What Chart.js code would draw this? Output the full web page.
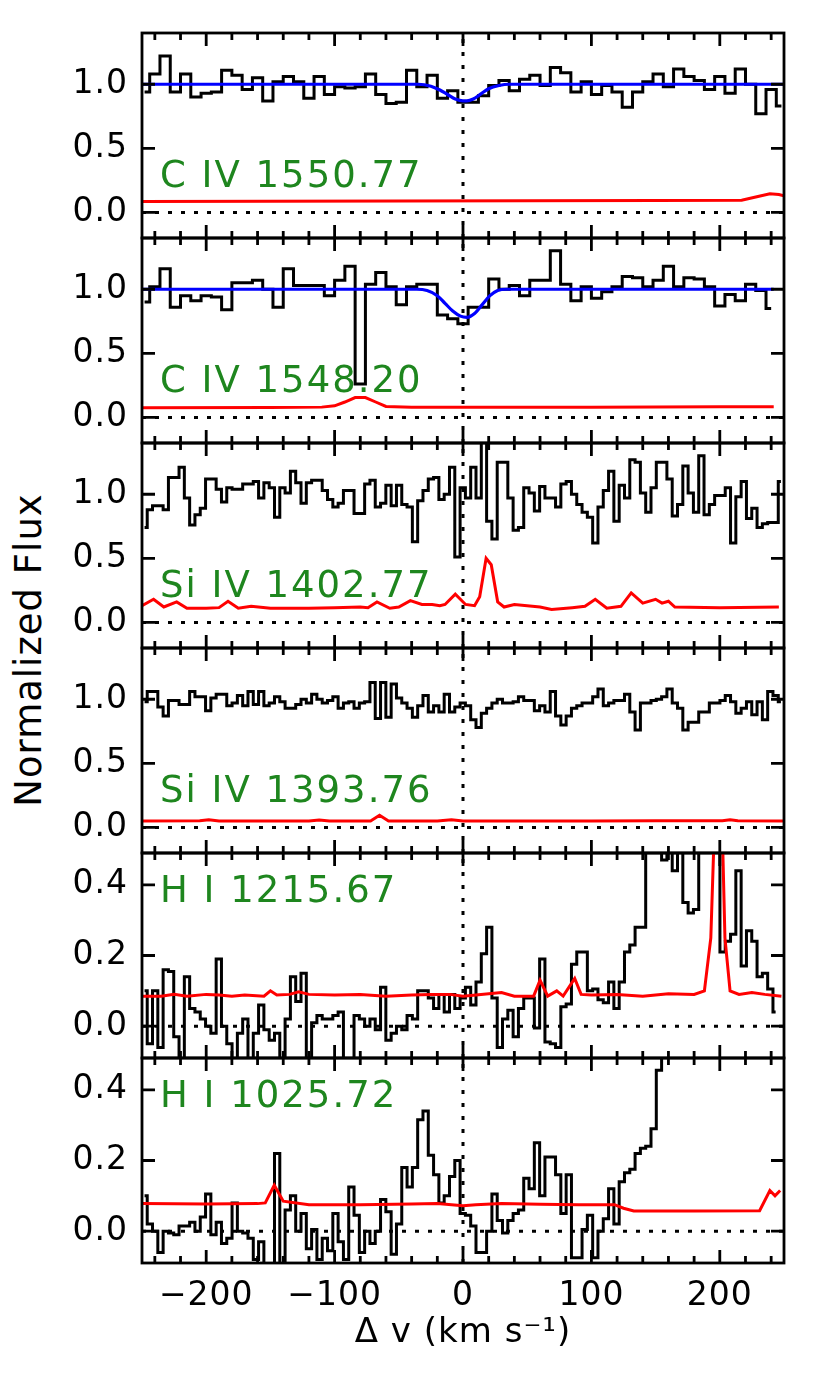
<!DOCTYPE html>
<html>
<head>
<meta charset="utf-8">
<script src="https://cdn.jsdelivr.net/npm/chart.js@4.4.1/dist/chart.umd.min.js"></script>
<style>
  html, body { margin: 0; padding: 0; background: #fff; }
  #wrap { position: relative; width: 830px; height: 1384px; overflow: hidden; background: #fff; }
  #wrap canvas { position: absolute; left: 0; }
  #ytitle {
    position: absolute; left: 28px; top: 650px;
    transform: translate(-50%, -50%) rotate(-90deg);
    font: 37px "DejaVu Sans", sans-serif; line-height: 1;
    letter-spacing: 1px; white-space: nowrap; color: #000;
  }
</style>
</head>
<body>
<div id="wrap">
  <div id="ytitle">Normalized Flux</div>
</div>
<script>
// velocity window (km/s)
const velMin = -250;
const velMax = 250;
const velTicks = [-200, -100, 0, 100, 200];
const fluxTicks = [-0.1, 0.0, 0.1, 0.2, 0.3, 0.4, 0.5, 0.6, 0.7, 0.8, 0.9, 1.0, 1.1, 1.2, 1.3];
const hiTicks = [0.0, 0.1, 0.2, 0.3, 0.4];

// C IV 1550.77 : pixel grid, flux, error, model
const civ1550Start = -248, civ1550Step = 8;
const civ1550Flux = [0.94,1.08,1.22,0.94,1.08,0.90,0.93,0.94,1.11,1.07,0.96,1.05,0.87,1.02,1.06,1.02,0.89,1.06,0.92,0.98,
  0.97,0.98,1.08,0.92,0.85,0.86,1.11,0.98,1.07,0.89,0.95,0.86,0.86,0.91,0.99,1.03,0.95,1.04,1.07,0.99,
  1.13,1.09,0.94,1.02,0.92,0.99,0.94,0.82,0.94,1.02,1.08,0.98,1.12,1.06,1.03,0.96,1.06,0.93,1.12,1.00,
  0.77,0.96,0.83];
const civ1550ErrV = [-250,-150,-50,50,150,217,228,239,246,250];
const civ1550Err = [0.085,0.087,0.088,0.09,0.093,0.095,0.12,0.145,0.14,0.13];
const civ1550ModelV = [-250,-35,-25,-18,-12,-6,0,3,8,14,20,28,36,250];
const civ1550Model = [1,1,0.985,0.955,0.92,0.885,0.87,0.87,0.885,0.925,0.965,0.99,1,1];

// C IV 1548.20
const civ1548Start = -248, civ1548Step = 8;
const civ1548Flux = [0.90,1.02,1.16,0.86,0.95,0.91,0.95,0.94,0.84,1.05,
  1.05,1.07,1.00,0.86,1.16,1.03,1.03,1.03,0.95,1.07,
  1.18,0.26,1.04,1.13,1.02,0.88,1.02,1.04,1.04,0.80,
  0.77,0.73,0.86,0.86,1.08,1.00,1.03,0.95,1.07,1.07,
  1.30,1.04,0.91,1.02,0.93,0.98,1.02,1.10,1.09,1.02,
  1.07,1.18,1.02,1.09,1.08,1.02,0.87,0.96,0.91,1.04,
  0.99,0.85];
const civ1548ErrV = [-250,-150,-110,-100,-92,-84,-76,-68,-60,-40,0,100,200,242];
const civ1548Err = [0.075,0.078,0.08,0.09,0.12,0.155,0.155,0.12,0.085,0.08,0.08,0.08,0.082,0.082];
const civ1548ModelV = [-250,-36,-28,-20,-14,-8,-2,3,9,15,21,27,34,242];
const civ1548Model = [1,1,0.99,0.95,0.89,0.83,0.79,0.78,0.81,0.88,0.95,0.99,1,1];

// Si IV 1402.77
const siiv1402Start = -248, siiv1402Step = 4.13;
const siiv1402Flux = [0.74,0.88,0.91,0.91,0.88,1.13,1.13,1.21,0.97,0.76,
  0.84,0.89,1.12,1.12,1.04,0.94,1.05,1.04,1.04,1.08,
  1.08,1.10,0.97,1.09,1.05,0.82,1.05,1.01,1.18,1.09,
  0.93,1.09,1.11,1.11,1.03,0.96,0.90,0.93,1.03,1.03,
  0.85,0.85,1.08,1.11,0.90,0.93,1.07,0.91,1.07,0.92,
  0.90,0.63,0.95,1.03,1.12,1.13,0.96,1.00,1.21,0.51,
  1.05,0.97,1.21,0.97,1.42,0.79,0.65,1.25,1.25,0.97,
  0.72,0.74,1.05,1.01,0.87,1.06,0.97,0.97,0.90,1.08,
  1.10,1.00,0.92,0.86,0.82,0.62,0.90,1.03,1.18,0.79,
  1.07,0.97,1.27,1.25,1.01,0.86,1.05,1.25,1.25,1.12,
  0.83,0.92,1.22,1.01,0.86,1.30,0.84,0.92,0.99,0.99,
  1.05,0.62,0.98,1.10,0.81,0.89,0.74,0.77,0.78,0.78,
  1.10];
const siiv1402ErrV = [-250,-241,-233,-223,-215,-200,-190,-183,-175,-165,-150,-120,-100,-80,-74,-67,-57,-50,-41,-32,
  -24,-18,-14,-6,2,9,13,18,22,27,32,40,60,69,85,95,103,112,123,131,140,150,155,160,165,200,246];
const siiv1402Err = [0.13,0.18,0.12,0.16,0.11,0.11,0.115,0.165,0.11,0.125,0.11,0.11,0.115,0.12,0.115,0.16,0.11,0.12,0.17,0.14,
  0.14,0.13,0.14,0.22,0.14,0.13,0.2,0.5,0.45,0.16,0.12,0.14,0.12,0.10,0.115,0.125,0.18,0.11,0.125,0.23,
  0.15,0.18,0.15,0.165,0.12,0.115,0.12];

// Si IV 1393.76
const siiv1393Start = -248, siiv1393Step = 4.13;
const siiv1393Flux = [0.98,1.06,1.06,0.94,0.87,0.99,0.99,0.96,0.96,1.06,
  1.02,1.02,0.91,1.01,1.04,1.04,0.95,0.97,1.03,0.95,
  1.06,0.96,1.06,0.95,0.97,1.02,0.98,0.93,0.93,0.96,
  1.00,0.97,1.04,1.00,0.97,0.99,1.02,0.93,0.97,0.98,
  0.93,0.97,0.98,1.13,0.85,1.13,0.86,1.12,1.01,0.97,
  0.93,0.86,0.95,1.03,0.90,0.95,0.90,1.04,0.90,0.94,
  0.97,0.95,0.84,0.78,0.89,0.93,0.97,1.00,0.97,0.97,
  0.98,1.02,0.99,0.99,0.91,0.95,0.90,1.06,0.87,0.80,
  0.87,0.93,0.95,0.97,0.97,1.02,1.08,0.95,0.97,0.99,
  0.99,1.04,0.90,0.76,0.97,0.97,0.99,1.00,1.02,1.08,
  0.97,0.93,0.76,0.82,0.82,0.90,0.90,0.97,0.97,0.99,
  1.03,0.98,0.89,0.93,0.98,0.88,0.98,0.84,1.06,1.03,
  0.98];
const siiv1393ErrV = [-250,-205,-198,-190,-120,-112,-104,-72,-65,-58,-20,-9,0,100,150,202,208,214,250];
const siiv1393Err = [0.05,0.052,0.06,0.05,0.05,0.058,0.05,0.05,0.095,0.05,0.05,0.06,0.05,0.05,0.052,0.052,0.06,0.052,0.05];

// H I 1215.67
const hi1215Start = -248, hi1215Step = 4.13;
const hi1215Flux = [0.10,-0.05,0.10,-0.06,0.16,0.155,-0.03,-0.12,0.14,0.05,
  0.04,0.02,0.0,-0.02,0.19,0.0,-0.05,-0.12,-0.02,0.02,
  -0.12,-0.02,0.06,-0.01,-0.04,-0.02,-0.12,0.02,0.14,0.07,
  0.15,-0.12,0.01,0.03,0.02,0.02,0.03,0.04,-0.12,-0.12,
  0.03,0.02,0.0,0.02,-0.01,0.11,-0.04,-0.02,0.0,-0.01,
  0.03,0.02,0.10,0.10,0.08,0.05,0.09,0.04,0.09,0.05,
  0.08,0.11,0.06,0.125,0.205,0.28,0.08,-0.06,0.02,0.045,
  -0.03,0.05,0.08,0.08,-0.005,0.19,-0.045,-0.05,-0.06,0.055,
  0.063,0.175,0.21,0.21,0.10,0.105,0.075,0.066,0.125,0.05,
  0.125,0.21,0.23,0.28,0.28,0.6,0.6,0.6,0.47,0.6,
  0.44,0.6,0.35,0.32,0.33,0.6,0.6,0.6,0.6,0.21,
  0.24,0.26,0.44,0.17,0.27,0.24,0.14,0.15,0.105,0.04];
const hi1215ErrV = [-250,-235,-225,-215,-200,-190,-180,-170,-155,-150,-145,-135,-128,-120,-100,-80,-60,-40,-25,-10,
  0,10,30,40,55,60,66,73,78,87,92,100,120,140,160,180,188,193,197,201,204,208,215,225,235,248];
const hi1215Err = [0.085,0.085,0.09,0.085,0.09,0.088,0.085,0.088,0.085,0.10,0.088,0.09,0.097,0.09,0.088,0.09,0.085,0.088,0.09,0.09,
  0.085,0.088,0.095,0.085,0.085,0.13,0.085,0.10,0.085,0.135,0.09,0.088,0.09,0.085,0.092,0.09,0.10,0.25,0.7,0.7,
  0.25,0.10,0.09,0.095,0.09,0.085];

// H I 1025.72
const hi1025Start = -248, hi1025Step = 4.13;
const hi1025Flux = [0.10,0.02,0.0,-0.06,0.0,-0.005,-0.01,0.015,0.015,0.025,
  0.0,0.04,0.105,-0.01,0.025,-0.035,-0.02,0.08,0.0,-0.005,
  -0.02,-0.08,-0.03,-0.12,-0.12,0.22,-0.12,0.06,0.10,0.0,
  0.05,-0.05,0.005,-0.08,-0.02,-0.055,0.05,-0.03,-0.08,0.125,
  0.045,-0.06,0.0,-0.035,0.0,0.09,0.055,-0.065,0.02,0.18,
  0.125,0.18,0.315,0.34,0.215,0.16,0.08,0.10,0.155,0.20,
  0.05,0.045,0.015,-0.06,-0.06,0.0,0.105,0.03,-0.005,0.03,
  0.05,0.06,0.15,0.12,0.25,0.10,0.21,0.21,0.16,0.05,
  0.16,-0.075,-0.075,0.005,0.045,-0.075,0.0,0.035,0.12,0.02,
  0.14,0.165,0.175,0.22,0.235,0.24,0.29,0.455,0.6,0.65,
  0.7];
const hi1025ErrV = [-250,-200,-160,-154,-147,-140,-120,-80,-40,-20,0,10,30,60,90,118,125,133,180,231,239,243,247];
const hi1025Err = [0.078,0.077,0.078,0.08,0.13,0.085,0.075,0.075,0.077,0.078,0.072,0.075,0.078,0.076,0.075,0.075,0.065,0.057,0.057,0.058,0.115,0.10,0.115];

const lineLabels = ['C IV 1550.77', 'C IV 1548.20', 'Si IV 1402.77', 'Si IV 1393.76', 'H I 1215.67', 'H I 1025.72'];

// layout of the stacked panels
const panelTops = [33, 238, 443, 648, 853, 1058];
const panelHeight = 205;
const FONT = '"DejaVu Sans", sans-serif';

const bins = (start, step, flux) => flux.map((f, i) => ({x: start + i * step, y: f}));
const pairs = (xs, ys) => xs.map((v, i) => ({x: v, y: ys[i]}));
const isMultiple = (v, m) => Math.abs(v / m - Math.round(v / m)) < 1e-6;
const fmtFlux = v => (Math.abs(v) < 1e-9 ? 0 : v).toFixed(1);

const panels = [
  {label: lineLabels[0], flux: bins(civ1550Start, civ1550Step, civ1550Flux), err: pairs(civ1550ErrV, civ1550Err),
   model: pairs(civ1550ModelV, civ1550Model), yMin: -0.2, yMax: 1.4, yTicks: fluxTicks, labelEvery: 0.5, longEvery: 0.5, labelY: 0.2},
  {label: lineLabels[1], flux: bins(civ1548Start, civ1548Step, civ1548Flux), err: pairs(civ1548ErrV, civ1548Err),
   model: pairs(civ1548ModelV, civ1548Model), yMin: -0.2, yMax: 1.4, yTicks: fluxTicks, labelEvery: 0.5, longEvery: 0.5, labelY: 0.2},
  {label: lineLabels[2], flux: bins(siiv1402Start, siiv1402Step, siiv1402Flux), err: pairs(siiv1402ErrV, siiv1402Err),
   yMin: -0.2, yMax: 1.4, yTicks: fluxTicks, labelEvery: 0.5, longEvery: 0.5, labelY: 0.2},
  {label: lineLabels[3], flux: bins(siiv1393Start, siiv1393Step, siiv1393Flux), err: pairs(siiv1393ErrV, siiv1393Err),
   yMin: -0.2, yMax: 1.4, yTicks: fluxTicks, labelEvery: 0.5, longEvery: 0.5, labelY: 0.2},
  {label: lineLabels[4], flux: bins(hi1215Start, hi1215Step, hi1215Flux), err: pairs(hi1215ErrV, hi1215Err),
   yMin: -0.09, yMax: 0.49, yTicks: hiTicks, labelEvery: 0.2, longEvery: 0.1, labelY: 0.35},
  {label: lineLabels[5], flux: bins(hi1025Start, hi1025Step, hi1025Flux), err: pairs(hi1025ErrV, hi1025Err),
   yMin: -0.09, yMax: 0.49, yTicks: hiTicks, labelEvery: 0.2, longEvery: 0.1, labelY: 0.35}
];

// tick labels get a little of the wide IDL look
const spacingPlugin = {
  id: 'spacing',
  beforeDraw(chart) {
    chart.ctx.letterSpacing = '1px';
  }
};

// green line label, drawn under the data
const labelPlugin = {
  id: 'lineLabel',
  beforeDatasetsDraw(chart, args, opts) {
    const {ctx, scales: {x, y}} = chart;
    ctx.save();
    ctx.letterSpacing = '2px';
    ctx.font = '37px ' + FONT;
    ctx.fillStyle = '#1e861e';
    ctx.textBaseline = 'alphabetic';
    ctx.textAlign = 'left';
    ctx.fillText(opts.text, x.getPixelForValue(-236), y.getPixelForValue(opts.y));
    ctx.restore();
  }
};

// box and inward ticks on all four sides
const framePlugin = {
  id: 'frame',
  afterDatasetsDraw(chart, args, opts) {
    const {ctx, chartArea: a, scales: {x, y}} = chart;
    ctx.save();
    ctx.strokeStyle = '#000';
    ctx.lineWidth = 2.8;
    ctx.lineCap = 'butt';
    ctx.beginPath();
    y.ticks.forEach(t => {
      const v = t.value;
      const py = y.getPixelForValue(v);
      const len = isMultiple(v, opts.longEvery) ? 13 : 7;
      ctx.moveTo(a.left, py); ctx.lineTo(a.left + len, py);
      ctx.moveTo(a.right, py); ctx.lineTo(a.right - len, py);
    });
    for (let v = velMin + 10; v < velMax; v += 20) {
      const px = x.getPixelForValue(v);
      const len = isMultiple(v, 100) ? 13 : 7;
      ctx.moveTo(px, a.top); ctx.lineTo(px, a.top + len);
      ctx.moveTo(px, a.bottom); ctx.lineTo(px, a.bottom - len);
    }
    ctx.stroke();
    ctx.strokeRect(a.left, a.top, a.right - a.left, a.bottom - a.top);
    ctx.restore();
  }
};

const wrap = document.getElementById('wrap');

panels.forEach((p, i) => {
  const last = i === panels.length - 1;
  const axisH = last ? 120 : 0;
  const canvas = document.createElement('canvas');
  canvas.width = 830;
  canvas.height = panelHeight + (last ? 20 + axisH : 40);
  canvas.style.top = (panelTops[i] - 20) + 'px';
  wrap.appendChild(canvas);

  const dotted = {borderColor: '#000', borderWidth: 3, borderDash: [4, 9], borderCapStyle: 'butt'};
  const datasets = [];
  if (p.model) {
    datasets.push({data: p.model, borderColor: '#0000ff', borderWidth: 3.2, cubicInterpolationMode: 'monotone'});
  }
  datasets.push({data: p.err, borderColor: '#ff0000', borderWidth: 3});
  datasets.push({data: p.flux, borderColor: '#000', borderWidth: 3, stepped: 'middle'});
  datasets.push({data: [{x: velMin, y: 0}, {x: velMax, y: 0}], ...dotted});
  datasets.push({data: [{x: 0, y: p.yMin}, {x: 0, y: p.yMax}], ...dotted});

  new Chart(canvas, {
    type: 'line',
    data: {datasets},
    options: {
      responsive: false,
      animation: false,
      devicePixelRatio: 1,
      events: [],
      layout: {padding: {top: 20, bottom: last ? 0 : 20, left: 0, right: 46}},
      elements: {point: {radius: 0}, line: {tension: 0, borderJoinStyle: 'miter', fill: false}},
      plugins: {
        legend: {display: false},
        tooltip: {enabled: false},
        lineLabel: {text: p.label, y: p.labelY},
        frame: {longEvery: p.longEvery}
      },
      scales: {
        x: {
          type: 'linear', min: velMin, max: velMax, display: last,
          afterBuildTicks: s => { s.ticks = velTicks.map(v => ({value: v})); },
          afterFit: s => { s.height = axisH; s.paddingLeft = 0; s.paddingRight = 0; },
          grid: {display: false, drawTicks: false},
          border: {display: false},
          ticks: {
            autoSkip: false, maxRotation: 0, minRotation: 0, padding: 14, color: '#000',
            font: {family: FONT, size: 33},
            callback: v => String(v).replace('-', '\u2212')
          },
          title: {
            display: true, text: '\u0394 v (km s\u207B\u00B9)', color: '#000',
            font: {family: FONT, size: 34}, padding: {top: 0, bottom: 29}
          }
        },
        y: {
          type: 'linear', min: p.yMin, max: p.yMax,
          afterBuildTicks: s => { s.ticks = p.yTicks.map(v => ({value: v})); },
          afterFit: s => { s.width = 142; s.paddingTop = 0; s.paddingBottom = 0; },
          grid: {display: false, drawTicks: false},
          border: {display: false},
          ticks: {
            autoSkip: false, padding: 14, color: '#000',
            font: {family: FONT, size: 33},
            callback: v => isMultiple(v, p.labelEvery) ? fmtFlux(v) : null
          }
        }
      }
    },
    plugins: [spacingPlugin, labelPlugin, framePlugin]
  });
});
</script>
</body>
</html>
